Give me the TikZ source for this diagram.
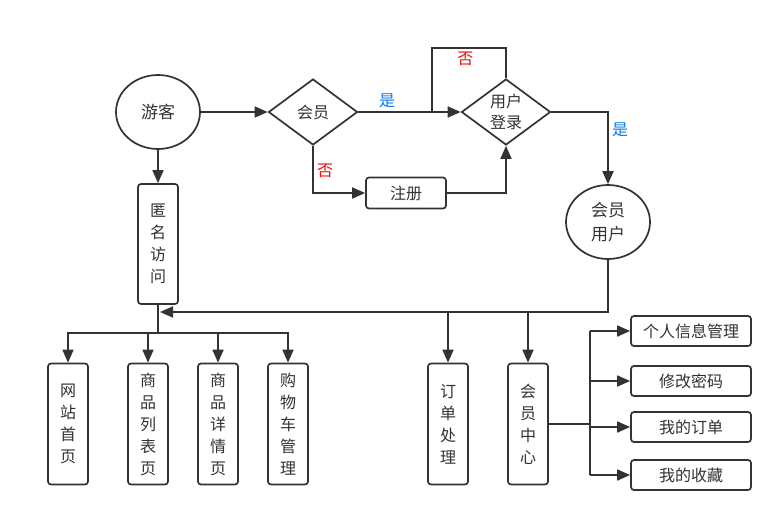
\documentclass[tikz,border=0pt]{standalone}
\usepackage{fontspec}
\setmainfont{Noto Sans CJK SC}
\usetikzlibrary{arrows.meta,shapes.geometric}
\definecolor{linegray}{HTML}{333333}
\definecolor{yesblue}{HTML}{0A7BE0}
\definecolor{nored}{HTML}{E81010}
\tikzset{
	flow/.style={line width=1.7pt, color=linegray},
	arr/.style={flow, -{Triangle[length=13pt,width=11pt]}},
	roundbox/.style={draw=linegray, line width=1.7pt, rounded corners=3pt, inner sep=0pt, text=linegray, font=\fontsize{16}{22}\selectfont, align=center},
	tallbox/.style={roundbox, minimum width=40pt, minimum height=121pt},
	widebox/.style={roundbox, minimum width=120pt, minimum height=30pt},
	oval/.style={ellipse, draw=linegray, line width=1.7pt, inner sep=0pt, minimum width=84pt, minimum height=74pt, text=linegray, font=\fontsize{17}{24}\selectfont, align=center},
	choice/.style={diamond, aspect=1.35, draw=linegray, line width=1.7pt, inner sep=0pt, minimum width=89pt, minimum height=66pt, text=linegray, font=\fontsize{16}{21}\selectfont, align=center},
	yes/.style={text=yesblue, font=\fontsize{16}{18}\selectfont},
	no/.style={text=nored, font=\fontsize{16}{18}\selectfont}
}

\begin{document}
\begin{tikzpicture}[x=1pt, y=-1pt]
			%%%%% START %%%%%
			\useasboundingbox[fill=white] (0, 0) rectangle (783, 522);
			
			\node[oval] (youke) at (158, 112) {游客};
			\node[choice] (huiyuan) at (313, 112) {会员};
			\node[choice] (denglu) at (506, 112) {用户\\登录};
			\node[roundbox, minimum width=80pt, minimum height=31pt] (zhuce) at (406, 193) {注册};
			\node[oval] (hyyh) at (608, 222) {会员\\用户};
			\node[tallbox, minimum height=120pt] (niming) at (158, 244) {匿\\名\\访\\问};
			
			\node[tallbox] (shouye) at (68, 424) {网\\站\\首\\页};
			\node[tallbox] (liebiao) at (148, 424) {商\\品\\列\\表\\页};
			\node[tallbox] (xiangqing) at (218, 424) {商\\品\\详\\情\\页};
			\node[tallbox] (gouwuche) at (288, 424) {购\\物\\车\\管\\理};
			\node[tallbox] (dingdan) at (448, 424) {订\\单\\处\\理};
			\node[tallbox] (zhongxin) at (528, 424) {会\\员\\中\\心};
			
			\node[widebox] (geren) at (691, 331) {个人信息管理};
			\node[widebox] (mima) at (691, 381) {修改密码};
			\node[widebox] (wodedd) at (691, 427) {我的订单};
			\node[widebox] (shoucang) at (691, 475) {我的收藏};
			
			\coordinate (loop) at (432, 48);
			\coordinate (join) at (160, 312);
			\coordinate (split) at (158, 333);
			\coordinate (hub) at (590, 424);
			
			% top row
			\draw[arr] (youke.east) -- (huiyuan.west);
			\draw[arr] (youke.south) -- (niming.north);
			\draw[arr] (huiyuan.east) -- node[yes, pos=0.28, above] {是} (denglu.west);
			\draw[flow] (loop |- denglu.west) -- (loop) -| node[no, pos=0.225, below] {否} (denglu.north);
			\draw[arr] (huiyuan.south) |- node[no, pos=0.27, right] {否} (zhuce.west);
			\draw[arr] (zhuce.east) -| (denglu.south);
			\draw[arr] (denglu.east) -| node[yes, pos=0.62, right] {是} (hyyh.north);
			
			% visitor pages
			\draw[arr] (hyyh.south) |- (join);
			\draw[flow] (niming.south) -- (split);
			\draw[arr] (split) -| (shouye.north);
			\draw[arr] (split) -| (liebiao.north);
			\draw[arr] (split) -| (xiangqing.north);
			\draw[arr] (split) -| (gouwuche.north);
			
			% member pages
			\draw[arr] (dingdan.north |- join) -- (dingdan.north);
			\draw[arr] (zhongxin.north |- join) -- (zhongxin.north);
			\draw[flow] (zhongxin.east) -- (hub);
			\draw[flow] (hub |- geren.west) -- (hub |- shoucang.west);
			\draw[arr] (hub |- geren.west) -- (geren.west);
			\draw[arr] (hub |- mima.west) -- (mima.west);
			\draw[arr] (hub |- wodedd.west) -- (wodedd.west);
			\draw[arr] (hub |- shoucang.west) -- (shoucang.west);
			%%%%% END %%%%%
\end{tikzpicture}
\end{document}
